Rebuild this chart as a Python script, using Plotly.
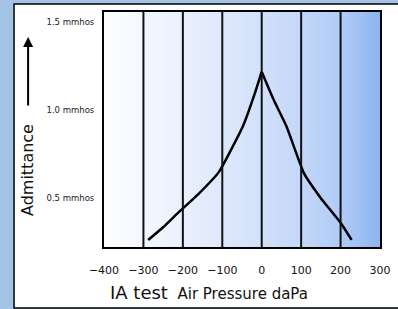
import plotly.graph_objects as go
import numpy as np

# Data
left_pressure = [-288, -250, -209, -160, -108, -48, -17, 0]
left_admittance = [0.263, 0.335, 0.424, 0.525, 0.651, 0.907, 1.098, 1.218]
right_pressure = [0, 30, 63, 107, 150, 201, 228]
right_admittance = [1.218, 1.06, 0.907, 0.642, 0.50, 0.358, 0.263]

x_ticks = [-400, -300, -200, -100, 0, 100, 200, 300]
y_ticks = [0.5, 1.0, 1.5]
y_tick_labels = ["0.5 mmhos", "1.0 mmhos", "1.5 mmhos"]
grid_lines = [-300, -200, -100, 0, 100, 200]

X_RANGE = [-400, 300]
Y_RANGE = [0.223, 1.557]

fig = go.Figure()

# background gradient
gx = np.arange(-400, 301, 5)
gy = [Y_RANGE[0], Y_RANGE[1]]
gz = [list(gx), list(gx)]
fig.add_trace(go.Heatmap(
    x=gx, y=gy, z=gz, zsmooth="best", showscale=False, hoverinfo="skip",
    colorscale=[[0.0, "#FDFEFF"], [0.143, "#F4F7FE"], [0.286, "#E9F0FD"],
                [0.429, "#DDE8FB"], [0.571, "#D1E0FA"], [0.714, "#C3D7F8"],
                [0.857, "#B1CBF6"], [1.0, "#8CB5F0"]],
))

fig.add_trace(go.Scatter(x=left_pressure, y=left_admittance, mode="lines",
                         line=dict(color="black", width=2.5, shape="spline", smoothing=0.4),
                         hoverinfo="skip", showlegend=False))
fig.add_trace(go.Scatter(x=right_pressure, y=right_admittance, mode="lines",
                         line=dict(color="black", width=2.5, shape="spline", smoothing=0.4),
                         hoverinfo="skip", showlegend=False))

shapes = []
# white panel
shapes.append(dict(type="rect", xref="paper", yref="paper",
                   x0=-0.326, x1=1.08, y0=-0.26, y1=1.034,
                   fillcolor="white", line=dict(color="black", width=1.5), layer="below"))
for gxv in grid_lines:
    shapes.append(dict(type="line", xref="x", yref="paper", x0=gxv, x1=gxv, y0=0, y1=1,
                       line=dict(color="#111111", width=2)))

fig.update_layout(
    width=398, height=309,
    margin=dict(l=104, r=18, t=12, b=62, autoexpand=False),
    paper_bgcolor="#A5C4E5",
    plot_bgcolor="rgba(0,0,0,0)",
    showlegend=False,
    shapes=shapes,
    font=dict(family="DejaVu Sans", color="#111111"),
    xaxis=dict(range=X_RANGE, tickvals=x_ticks, showgrid=False, zeroline=False,
               showline=True, mirror=True, linecolor="black", linewidth=2,
               ticks="", ticklabelstandoff=12, tickfont=dict(size=11, color="#111111"),
               layer="above traces", automargin=False),
    yaxis=dict(range=Y_RANGE, tickvals=y_ticks, ticktext=y_tick_labels, showgrid=False,
               zeroline=False, showline=True, mirror=True, linecolor="black", linewidth=2,
               ticks="", ticklabelstandoff=6, tickfont=dict(size=8.5, color="#222222"),
               layer="above traces", automargin=False),
    annotations=[
        dict(x=-0.275, y=0.894, xref="paper", yref="paper", text="", showarrow=True,
             ax=0, ay=70, arrowhead=2, arrowsize=1, arrowwidth=2, arrowcolor="black"),
        dict(x=-0.275, y=0.328, xref="paper", yref="paper", text="Admittance",
             textangle=-90, showarrow=False, font=dict(size=16, color="#111111"),
             xanchor="center", yanchor="middle"),
        dict(x=0.38, y=-0.195, xref="paper", yref="paper",
             text="<span style='font-size:18px'>IA test</span>  Air Pressure daPa",
             showarrow=False, font=dict(size=15, color="#111111"),
             xanchor="center", yanchor="middle"),
    ],
)

fig.write_html("out.html", config={"displayModeBar": False},
               post_script="document.body.style.margin='0px';document.body.style.padding='0px';")
